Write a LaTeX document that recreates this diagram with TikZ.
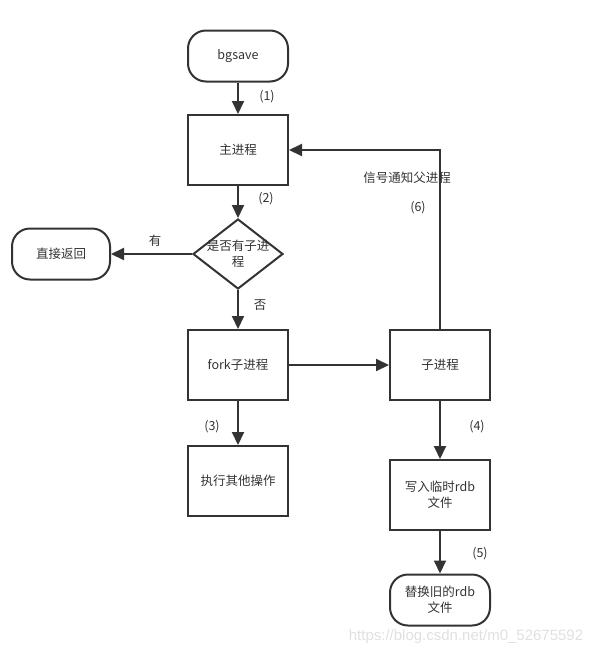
\documentclass[tikz,border=0pt]{standalone}
\usepackage{fontspec}
\setmainfont{Noto Sans CJK SC}
\newfontfamily\wmfont{Liberation Sans}
\usetikzlibrary{shapes.geometric,arrows.meta}
\definecolor{ink}{HTML}{333333}
\begin{document}
\begin{tikzpicture}[x=1pt,y=-1pt,
    font=\fontsize{12.5}{16}\selectfont, text=ink,
    box/.style={draw=ink,line width=2pt,minimum width=100pt,minimum height=70pt,align=center},
    term/.style={draw=ink,line width=2pt,rounded corners=18pt,minimum width=100pt,minimum height=51pt,align=center},
    arr/.style={draw=ink,line width=2pt,-{Triangle[length=13pt,width=12pt]}},
    lbl/.style={inner sep=0pt}]
    \useasboundingbox (0,0) rectangle (600,656);

    \node[term] (bgsave) at (238,56) {bgsave};
    \node[box] (main) at (238,150) {主进程};
    \node[draw=ink,line width=2pt,diamond,inner sep=0pt,minimum width=90pt,minimum height=70pt,
          label={[align=center]center:是否有子进\\程}] (haschild) at (238,254) {};
    \node[term,minimum width=98pt] (ret) at (61,254) {直接返回};
    \node[box] (fork) at (238,365) {fork子进程};
    \node[box] (other) at (238,481) {执行其他操作};
    \node[box] (child) at (440,365) {子进程};
    \node[box] (write) at (440,495) {写入临时rdb\\文件};
    \node[term] (replace) at (440,600) {替换旧的rdb\\文件};

    \draw[arr] (bgsave) -- (main);
    \draw[arr] (main) -- (haschild);
    \draw[arr] (haschild) -- (ret);
    \draw[arr] (haschild) -- (fork);
    \draw[arr] (fork) -- (child);
    \draw[arr] (fork) -- (other);
    \draw[arr] (child) -- (write);
    \draw[arr] (write) -- (replace);
    \draw[arr] (child.north) |- (main.east);

    \node[lbl] (l1) at (267,97) {(1)};
    \node[lbl] (l2) at (266,199) {(2)};
    \node[lbl] (lyes) at (155,241) {有};
    \node[lbl] (lno) at (260,305) {否};
    \node[lbl] (l3) at (212,427) {(3)};
    \node[lbl] (l4) at (477,427) {(4)};
    \node[lbl] (l5) at (480,554) {(5)};
    \node[lbl] (lsig) at (407,178) {信号通知父进程};
    \node[lbl] (l6) at (418,208) {(6)};

    \node[lbl,font=\wmfont\fontsize{15}{18}\selectfont,text=black!12] (mark) at (466,637) {https://blog.csdn.net/m0\_52675592};
\end{tikzpicture}
\end{document}
